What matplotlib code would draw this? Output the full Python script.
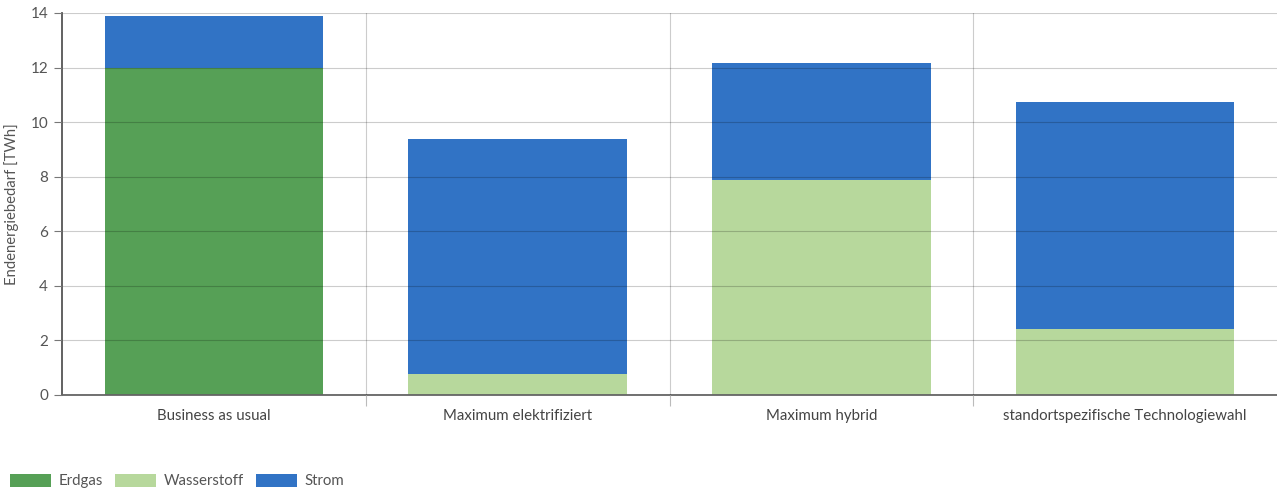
import numpy as np
import matplotlib.pyplot as plt

categories = ['Business as usual', 'Maximum elektrifiziert', 'Maximum hybrid',
              'standortspezifische Technologiewahl']
erdgas = [12.0, 0.0, 0.0, 0.0]
wasserstoff = [0.0, 0.77, 7.88, 2.42]
strom = [1.9, 8.61, 4.29, 8.32]

col_erdgas = '#56a056'
col_h2 = '#b7d89c'
col_strom = '#3173c5'

plt.rcParams['font.family'] = ['Lato', 'DejaVu Sans']

fig = plt.figure(figsize=(12.77, 4.91), dpi=100)
ax = fig.add_axes([62 / 1277, 1 - 395 / 491, 1 - 62 / 1277, (395 - 13) / 491])

x = np.arange(len(categories))
w = 0.72
ax.bar(x, erdgas, w, color=col_erdgas, label='Erdgas', zorder=2)
ax.bar(x, wasserstoff, w, bottom=erdgas, color=col_h2, label='Wasserstoff', zorder=2)
base = np.array(erdgas) + np.array(wasserstoff)
ax.bar(x, strom, w, bottom=base, color=col_strom, label='Strom', zorder=2)

ax.set_xlim(-0.5, 3.5)
ax.set_ylim(0, 14)
ax.set_yticks(np.arange(0, 15, 2))
ax.set_xticks([0.5, 1.5, 2.5])
ax.set_xticklabels([])
ax.set_xticks(x, minor=True)
ax.set_xticklabels(categories, minor=True)

ax.grid(True, axis='both', which='major', color='black', alpha=0.2, lw=0.8, zorder=3)
ax.set_axisbelow(False)

for s in ['top', 'right']:
    ax.spines[s].set_visible(False)
ax.spines['left'].set_color('#555555')
ax.spines['bottom'].set_color('#666666')
ax.spines['left'].set_linewidth(1.3)
ax.spines['bottom'].set_linewidth(1.3)

ax.tick_params(axis='y', length=6, color='#777777', labelsize=11, labelcolor='#555555', pad=4)
ax.tick_params(axis='x', which='major', length=8, color='#bbbbbb')
ax.tick_params(axis='x', which='minor', length=0, labelsize=10.8, labelcolor='#444444', pad=10)

ax.set_ylabel('Endenergiebedarf [TWh]', fontsize=10.7, color='#555555')
# label sits about 43 px left of the y axis
ax.yaxis.set_label_coords(-43 / 1215, 0.5)

fig.legend(loc='center left', bbox_to_anchor=(10 / 1277, 10 / 491), ncol=3, frameon=False,
           fontsize=10.8, handlelength=2.75, handleheight=0.95, columnspacing=0.8,
           handletextpad=0.5, borderpad=0, borderaxespad=0, labelcolor='#555555')

fig.savefig('out.png', dpi=100)
